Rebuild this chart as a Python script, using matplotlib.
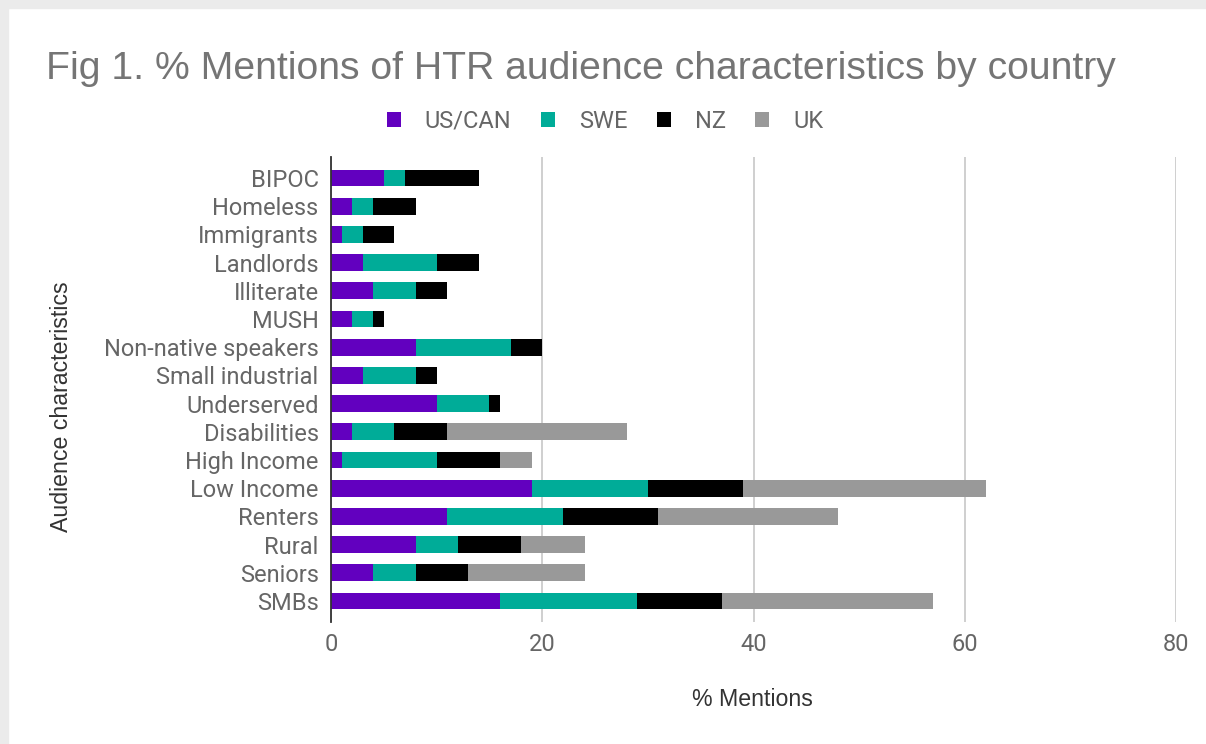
import matplotlib
matplotlib.use("Agg")
import matplotlib.pyplot as plt
import numpy as np
from matplotlib.patches import Rectangle

categories = ["BIPOC", "Homeless", "Immigrants", "Landlords", "Illiterate", "MUSH",
              "Non-native speakers", "Small industrial", "Underserved", "Disabilities",
              "High Income", "Low Income", "Renters", "Rural", "Seniors", "SMBs"]
us_can = [5, 2, 1, 3, 4, 2, 8, 3, 10, 2, 1, 19, 11, 8, 4, 16]
swe    = [2, 2, 2, 7, 4, 2, 9, 5, 5, 4, 9, 11, 11, 4, 4, 13]
nz     = [7, 4, 3, 4, 3, 1, 3, 2, 1, 5, 6, 9, 9, 6, 5, 8]
uk     = [0, 0, 0, 0, 0, 0, 0, 0, 0, 17, 3, 23, 17, 6, 11, 20]
series_names = ["US/CAN", "SWE", "NZ", "UK"]
colors = ["#6200bf", "#00ac98", "#000000", "#999999"]
x_ticks = [0, 20, 40, 60, 80]

W, H = 1206, 744
fig = plt.figure(figsize=(W / 100, H / 100), dpi=100)
fig.patch.set_facecolor("white")

# light grey frame at top and left
fig.patches.append(Rectangle((0, 1 - 8 / H), 1, 8 / H, transform=fig.transFigure,
                             color="#ebebeb", zorder=0))
fig.patches.append(Rectangle((0, 0), 8 / W, 1, transform=fig.transFigure,
                             color="#ebebeb", zorder=0))

left, right, top, bottom = 331, 1176, 157, 622
ax = fig.add_axes([left / W, 1 - bottom / H, (right - left) / W, (bottom - top) / H])

y = np.arange(len(categories))
base = np.zeros(len(categories))
for name, vals, c in zip(series_names, [us_can, swe, nz, uk], colors):
    vals = np.array(vals, dtype=float)
    ax.barh(y, vals, left=base, height=0.6, color=c, label=name, zorder=3)
    base += vals

ax.set_xlim(0, 80)
ax.set_ylim(len(categories) - 1 + 0.745, -0.745)
ax.set_xticks(x_ticks)
ax.set_xticklabels([str(t) for t in x_ticks])
ax.set_yticks(y)
ax.set_yticklabels(categories)

tick_font = ["Roboto", "DejaVu Sans"]
label_font = ["Liberation Sans", "DejaVu Sans"]
for lab in ax.get_xticklabels() + ax.get_yticklabels():
    lab.set_family(tick_font)
    lab.set_fontsize(17)
    lab.set_color("#666666")
ax.tick_params(axis="both", length=0)
ax.tick_params(axis="y", pad=9)
ax.tick_params(axis="x", pad=8)

ax.grid(axis="x", color="#cccccc", linewidth=1.3, zorder=0)
ax.set_axisbelow(True)
for s in ["top", "right", "bottom"]:
    ax.spines[s].set_visible(False)
ax.spines["left"].set_color("#333333")
ax.spines["left"].set_linewidth(1.3)
ax.spines["left"].set_zorder(4)

fig.text(62 / W, 1 - 407 / H, "Audience characteristics", rotation=90,
         ha="center", va="center", fontsize=16.7, color="#333333",
         family=label_font)
fig.text(752 / W, 1 - 700 / H, "% Mentions", ha="center", va="center",
         fontsize=16.7, color="#333333", family=label_font)

fig.text(46 / W, 1 - 79 / H, "Fig 1. % Mentions of HTR audience characteristics by country",
         ha="left", va="baseline", fontsize=28.2, color="#757575",
         family=label_font)

handles, labels = ax.get_legend_handles_labels()
leg = fig.legend(handles, labels, loc="center", bbox_to_anchor=(605 / W, 1 - 121 / H),
                 ncol=4, frameon=False, handlelength=0.59,
                 handleheight=0.59, handletextpad=1.02, columnspacing=1.25,
                 prop={"family": tick_font, "size": 17})
for t in leg.get_texts():
    t.set_color("#666666")

fig.savefig("out.png", dpi=100)
